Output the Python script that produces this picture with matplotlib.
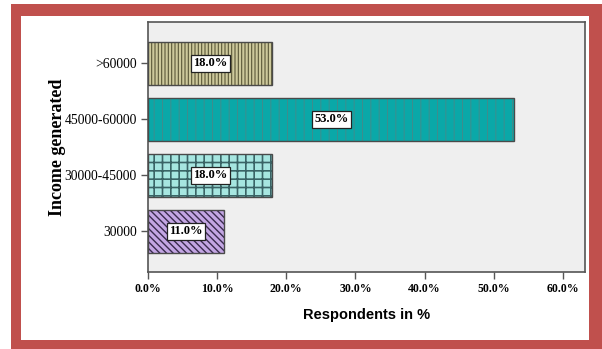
import matplotlib.pyplot as plt
import matplotlib.patches as mpatches
import numpy as np

# Income groups and share of respondents (%)
categories = ['30000', '30000-45000', '45000-60000', '>60000']
values = [11.0, 18.0, 53.0, 18.0]
bar_colors = ['#c3a6e3', '#a6e6e0', '#0aa8a8', '#cdc99c']
hatches = ['\\\\\\\\\\', '++', '||', '|||||']
hatch_colors = ['#3a2b4e', '#3a6466', '#3f8d8d', '#5a5738']
hatch_widths = [1.0, 1.2, 0.7, 0.8]
xticks = [0, 10, 20, 30, 40, 50, 60]

fig = plt.figure(figsize=(6.02, 3.49), dpi=100)
W, H = 602.0, 349.0

# red frame around the whole chart (kept behind the axes)
fig.patches.append(mpatches.Rectangle((11 / W, 0), 1 - 11 / W, 1 - 4 / H,
                                      transform=fig.transFigure,
                                      facecolor='#c0504d', edgecolor='none', zorder=-10))
fig.patches.append(mpatches.Rectangle((21 / W, 9 / H), (589 - 21) / W, (333 - 9) / H,
                                      transform=fig.transFigure,
                                      facecolor='white', edgecolor='none', zorder=-9))

ax = fig.add_axes([148 / W, 1 - 272 / H, (585 - 148) / W, (272 - 22) / H])
ax.set_facecolor('#efefef')

y = np.arange(len(categories))
for i in range(len(categories)):
    with plt.rc_context({'hatch.linewidth': hatch_widths[i]}):
        ax.barh(y[i], values[i], height=0.76, color=bar_colors[i],
                edgecolor=hatch_colors[i], hatch=hatches[i], linewidth=0, zorder=2)
    ax.barh(y[i], values[i], height=0.76, facecolor='none',
            edgecolor='#4a4a4a', linewidth=1.0, zorder=3)
    ax.text(values[i] / 2, y[i], '%.1f%%' % values[i], ha='center', va='center',
            family='Liberation Serif', fontweight='bold', fontsize=9, zorder=4,
            bbox=dict(boxstyle='square,pad=0.18', facecolor='white',
                      edgecolor='#222222', linewidth=0.9))

ax.set_xlim(0, 63.2)
ax.set_ylim(-0.727, 3.737)
ax.set_xticks(xticks)
ax.set_xticklabels(['%.1f%%' % t for t in xticks], family='Liberation Serif',
                   fontweight='bold', fontsize=8.5)
ax.set_yticks(y)
ax.set_yticklabels(categories, family='Liberation Serif', fontsize=9.8)
ax.tick_params(axis='both', direction='out', length=5, width=1, color='#555555', pad=3)

for s in ax.spines.values():
    s.set_color('#555555')
    s.set_linewidth(1.2)

ax.set_ylabel('Income generated', family='Liberation Serif', fontweight='bold',
              fontsize=13, labelpad=-1)
ax.set_xlabel('Respondents in %', family='Liberation Sans', fontsize=10.5,
              fontweight='bold', labelpad=9)

fig.savefig('out.png', dpi=100)
